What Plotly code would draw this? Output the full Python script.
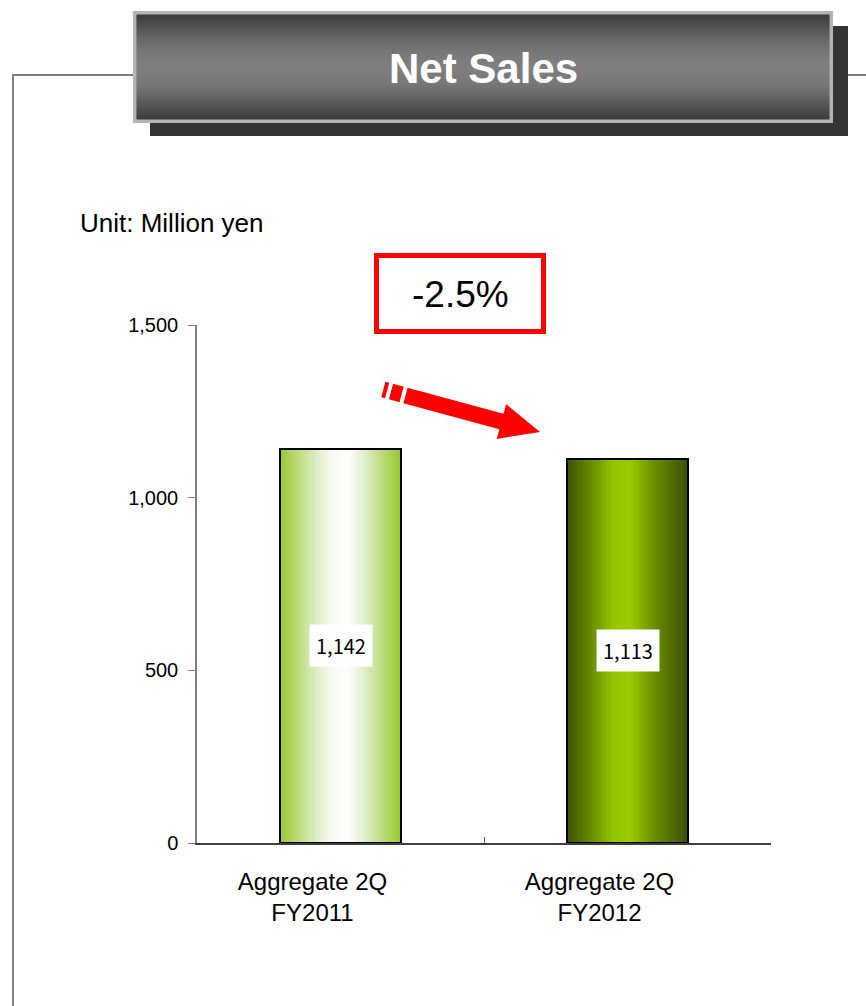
import plotly.graph_objects as go
import math

# ---------------- data ----------------
categories = ["Aggregate 2Q<br>FY2011", "Aggregate 2Q<br>FY2012"]
net_sales = [1142, 1113]
change_label = "-2.5%"
y_tickvals = [0, 500, 1000, 1500]
title_text = "Net Sales"
unit_text = "Unit: Million yen"

# ---------------- layout geometry ----------------
W, H = 866, 1006
ML, MR, MT, MB = 197, 95, 325, 163
PW = W - ML - MR
PH = H - MT - MB

def X(px):
    return (px - ML) / PW

def Y(py):
    return (H - MB - py) / PH

FONT = "Liberation Sans, Arial, sans-serif"

# ---------------- gradients ----------------
def hex2rgb(h):
    h = h.lstrip("#")
    return tuple(int(h[i:i + 2], 16) for i in (0, 2, 4))

def interp(stops, t):
    for (p0, c0), (p1, c1) in zip(stops[:-1], stops[1:]):
        if p0 <= t <= p1:
            f = 0 if p1 == p0 else (t - p0) / (p1 - p0)
            a, b = hex2rgb(c0), hex2rgb(c1)
            r = [round(a[k] + (b[k] - a[k]) * f) for k in range(3)]
            return "rgb(%d,%d,%d)" % tuple(r)
    return stops[-1][1]

grad_light = [(0.0, "#98c82a"), (0.12, "#b2d86a"), (0.28, "#d8ebbd"),
              (0.42, "#f6faef"), (0.55, "#ffffff"), (0.70, "#dfeecb"),
              (0.86, "#b6d972"), (1.0, "#98c82a")]
grad_dark = [(0.0, "#3c5200"), (0.18, "#628500"), (0.38, "#94c600"),
             (0.52, "#99cc00"), (0.72, "#6a8f00"), (1.0, "#3a4e00")]
bar_grads = [grad_light, grad_dark]

BAR_W = 0.425
N = 48

fig = go.Figure()
for i in range(N):
    t = (i + 0.5) / N
    off = -BAR_W / 2 + i * BAR_W / N
    wid = BAR_W / N * (1.0 if i == N - 1 else 1.25)
    fig.add_trace(go.Bar(
        x=categories, y=net_sales,
        width=[wid] * len(categories), offset=[off] * len(categories),
        marker=dict(color=[interp(g, t) for g in bar_grads], line=dict(width=0)),
        showlegend=False, hoverinfo="skip"))

# outline
fig.add_trace(go.Bar(
    x=categories, y=net_sales, width=BAR_W,
    marker=dict(color="rgba(0,0,0,0)", line=dict(color="#000000", width=2)),
    showlegend=False, hoverinfo="skip"))

# ---------------- annotations ----------------
annotations = []
for c, v in zip(categories, net_sales):
    annotations.append(dict(
        x=c, y=v / 2, xref="x", yref="y", text=f"{v:,}", showarrow=False,
        bgcolor="#ffffff", borderpad=6,
        font=dict(family="Noto Sans CJK JP", size=20, color="#000000")))

annotations.append(dict(
    x=X(483), y=Y(68), xref="paper", yref="paper", text=f"<b>{title_text}</b>",
    showarrow=False, xanchor="center", yanchor="middle",
    font=dict(family=FONT, size=42, color="#ffffff")))
annotations.append(dict(
    x=X(78), y=Y(223), xref="paper", yref="paper", text=unit_text,
    showarrow=False, xanchor="left", yanchor="middle",
    font=dict(family=FONT, size=26, color="#000000")))
annotations.append(dict(
    x=X(460), y=Y(294), xref="paper", yref="paper", text=change_label,
    showarrow=False, xanchor="center", yanchor="middle",
    font=dict(family=FONT, size=37, color="#000000")))

# ---------------- shapes ----------------
shapes = []
frame = "#808080"
shapes.append(dict(type="line", xref="paper", yref="paper",
                   x0=X(13), y0=Y(75), x1=X(134), y1=Y(75), line=dict(color=frame, width=2)))
shapes.append(dict(type="line", xref="paper", yref="paper",
                   x0=X(13), y0=Y(74), x1=X(13), y1=Y(1010), line=dict(color=frame, width=2)))
shapes.append(dict(type="line", xref="paper", yref="paper",
                   x0=X(847), y0=Y(75), x1=X(870), y1=Y(75), line=dict(color=frame, width=2)))

# title shadow & box
shapes.append(dict(type="rect", xref="paper", yref="paper",
                   x0=X(150), x1=X(848), y0=Y(26), y1=Y(136),
                   fillcolor="#343434", line=dict(width=0)))
shapes.append(dict(type="rect", xref="paper", yref="paper",
                   x0=X(133), x1=X(833), y0=Y(11), y1=Y(123),
                   fillcolor="#b4b4b4", line=dict(width=0)))
top, bot = 14.5, 119.5
steps = 52
for k in range(steps):
    y0 = top + (bot - top) * k / steps
    y1 = top + (bot - top) * (k + 1) / steps + 0.6
    t = (k + 0.5) / steps
    v = round(60 + 66 * math.sin(math.pi * t) ** 1.1)
    shapes.append(dict(type="rect", xref="paper", yref="paper",
                       x0=X(136.5), x1=X(829.5), y0=Y(y0), y1=Y(min(y1, bot)),
                       fillcolor="rgb(%d,%d,%d)" % (v, v, v), line=dict(width=0)))

# red box
shapes.append(dict(type="rect", xref="paper", yref="paper",
                   x0=X(376.5), x1=X(543.5), y0=Y(255.5), y1=Y(331.5),
                   fillcolor="rgba(0,0,0,0)", line=dict(color="#ff0000", width=5)))

# arrow
S = (405.5, 395.5)
T = (540.0, 432.0)
L = math.hypot(T[0] - S[0], T[1] - S[1])
u = ((T[0] - S[0]) / L, (T[1] - S[1]) / L)
n = (-u[1], u[0])

def P(t, s):
    return (S[0] + t * u[0] + s * n[0], S[1] + t * u[1] + s * n[1])

def path(pts):
    return "M " + " L ".join(f"{X(px):.5f},{Y(py):.5f}" for px, py in pts) + " Z"

hb, hh, hl = 8, 18, 40
B = L - hl
arrow_pts = [P(0, -hb), P(B, -hb), P(B, -hh), P(L, 0), P(B, hh), P(B, hb), P(0, hb)]
shapes.append(dict(type="path", xref="paper", yref="paper", path=path(arrow_pts),
                   fillcolor="#ff0000", line=dict(width=0)))
for a, b in [(-15, -4), (-23, -19)]:
    pts = [P(a, -hb), P(b, -hb), P(b, hb), P(a, hb)]
    shapes.append(dict(type="path", xref="paper", yref="paper", path=path(pts),
                       fillcolor="#ff0000", line=dict(width=0)))

fig.update_layout(
    width=W, height=H,
    margin=dict(l=ML, r=MR, t=MT, b=MB),
    paper_bgcolor="#ffffff", plot_bgcolor="#ffffff",
    barmode="overlay", bargap=0, showlegend=False,
    annotations=annotations, shapes=shapes,
    font=dict(family=FONT, color="#000000"),
)
fig.update_xaxes(
    type="category", range=[-0.5, 1.5], showgrid=False,
    showline=True, linecolor="#404040", linewidth=1.5,
    ticks="inside", tickson="boundaries", ticklen=6, tickcolor="#606060",
    tickfont=dict(family=FONT, size=24, color="#000000"),
    ticklabelstandoff=16, ticklabelshift=-28,
)
fig.update_yaxes(
    range=[0, 1500], tickvals=y_tickvals, tickformat=",", showgrid=False,
    zeroline=False, showline=True, linecolor="#808080", linewidth=1.5,
    ticks="outside", ticklen=7, tickcolor="#808080",
    tickfont=dict(family=FONT, size=20, color="#000000"),
    ticklabelstandoff=6,
)

fig.write_html(
    "out.html",
    config={"displayModeBar": False},
    post_script="document.body.style.margin='0';document.body.style.overflow='hidden';",
)
